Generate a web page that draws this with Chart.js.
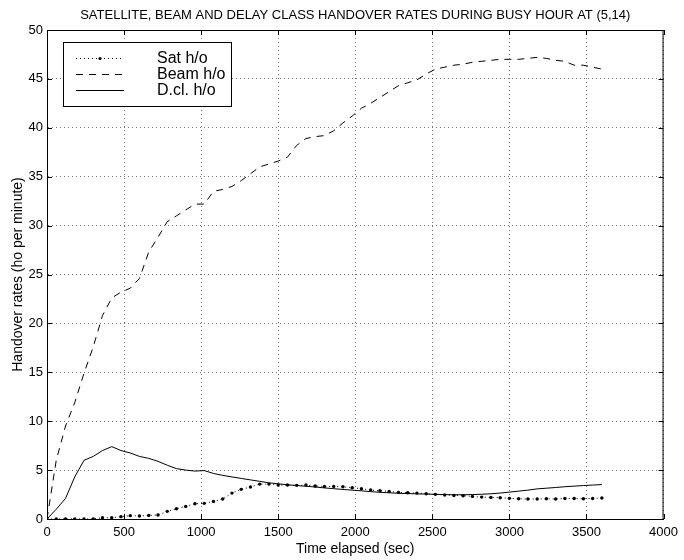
<!DOCTYPE html>
<html>
<head>
<meta charset="utf-8">
<script src="https://cdn.jsdelivr.net/npm/chart.js"></script>
<style>
  html, body { margin: 0; padding: 0; background: #fff; }
  #wrap { width: 684px; height: 560px; }
</style>
</head>
<body>
<div id="wrap"><canvas id="handoverChart" width="684" height="560"></canvas></div>
<script>
// sample times (sec), one every minute
const times = [0, 60, 120, 180, 240, 300, 360, 420, 480, 540, 600, 660, 720, 780, 840, 900, 960, 1020,
  1080, 1140, 1200, 1260, 1320, 1380, 1440, 1500, 1560, 1620, 1680, 1740, 1800, 1860, 1920, 1980,
  2040, 2100, 2160, 2220, 2280, 2340, 2400, 2460, 2520, 2580, 2640, 2700, 2760, 2820, 2880, 2940,
  3000, 3060, 3120, 3180, 3240, 3300, 3360, 3420, 3480, 3540, 3600];

// handover rates (ho per minute)
const satHo = [0, 0, 0, 0, 0, 0, 0.13, 0.13, 0.24, 0.34, 0.31, 0.37, 0.41, 0.78, 1.05, 1.29, 1.56, 1.6,
  1.8, 2.04, 2.65, 3.03, 3.27, 3.57, 3.57, 3.47, 3.47, 3.44, 3.47, 3.37, 3.33, 3.33, 3.3, 3.2,
  3.1, 2.96, 2.89, 2.82, 2.72, 2.69, 2.65, 2.58, 2.52, 2.45, 2.41, 2.38, 2.31, 2.24, 2.21, 2.18,
  2.11, 2.07, 2.04, 2.04, 2.07, 2.04, 2.1, 2.1, 2.07, 2.1, 2.14];

const beamHo = [0, 6.0, 9.5, 11.9, 14.9, 17.6, 20.8, 22.6, 23.2, 23.6, 24.6, 27.3, 28.8, 30.4, 31.0, 31.6, 32.2, 32.2,
  33.5, 33.7, 34.0, 34.6, 35.3, 36.0, 36.3, 36.6, 37.0, 38.2, 38.9, 39.1, 39.2, 39.7, 40.5, 41.2,
  42.0, 42.5, 43.1, 43.7, 44.3, 44.6, 44.9, 45.5, 46.0, 46.2, 46.4, 46.5, 46.7, 46.8, 46.9, 47.0,
  47.0, 47.0, 47.1, 47.2, 47.1, 46.9, 46.8, 46.4, 46.4, 46.2, 46.0];

const dclHo = [0, 1.0, 2.1, 4.3, 6.0, 6.4, 7.0, 7.4, 7.0, 6.75, 6.4, 6.2, 5.9, 5.5, 5.15, 5.0, 4.9, 4.95,
  4.66, 4.46, 4.3, 4.15, 4.0, 3.85, 3.7, 3.6, 3.5, 3.42, 3.35, 3.27, 3.18, 3.1, 3.02, 2.95,
  2.88, 2.8, 2.73, 2.68, 2.63, 2.6, 2.57, 2.55, 2.52, 2.5, 2.48, 2.48, 2.5, 2.53, 2.58, 2.65,
  2.75, 2.85, 2.95, 3.08, 3.15, 3.22, 3.3, 3.36, 3.42, 3.47, 3.52];

const seriesNames = ['Sat h/o', 'Beam h/o', 'D.cl. h/o'];
const chartTitle = 'SATELLITE, BEAM AND DELAY CLASS HANDOVER RATES DURING BUSY HOUR AT (5,14)';

const FONT = '"Liberation Sans", Arial, Helvetica, sans-serif';

function toPoints(vals) {
  return vals.map((v, i) => ({ x: times[i], y: v }));
}

// box round the axes, with inward tick marks on every side (MATLAB look)
const boxPlugin = {
  id: 'axesBox',
  afterDatasetsDraw(chart) {
    const { ctx, chartArea: a, scales } = chart;
    ctx.save();
    ctx.strokeStyle = '#000';
    ctx.lineWidth = 1;
    ctx.strokeRect(a.left + 0.5, a.top + 0.5, a.right - a.left - 1, a.bottom - a.top);
    ctx.beginPath();
    scales.x.ticks.forEach(t => {
      const px = Math.round(scales.x.getPixelForValue(t.value)) + 0.5;
      ctx.moveTo(px, a.bottom); ctx.lineTo(px, a.bottom - 5);
      ctx.moveTo(px, a.top); ctx.lineTo(px, a.top + 5);
    });
    scales.y.ticks.forEach(t => {
      const py = Math.round(scales.y.getPixelForValue(t.value)) + 0.5;
      ctx.moveTo(a.left, py); ctx.lineTo(a.left + 5, py);
      ctx.moveTo(a.right, py); ctx.lineTo(a.right - 5, py);
    });
    ctx.stroke();
    ctx.restore();
  }
};

// title centred over the plot area, legend box inside the plot
const legendPlugin = {
  id: 'boxLegend',
  afterDraw(chart) {
    const { ctx, chartArea: a } = chart;
    ctx.save();
    ctx.fillStyle = '#000';
    ctx.font = '13px ' + FONT;
    ctx.textAlign = 'center';
    ctx.textBaseline = 'alphabetic';
    ctx.fillText(chartTitle, (a.left + a.right) / 2, 19);

    const x0 = a.left + 16, y0 = a.top + 12, w = 168, h = 64;
    ctx.textAlign = 'left';
    ctx.textBaseline = 'middle';
    ctx.fillStyle = '#fff';
    ctx.fillRect(x0, y0, w, h);
    ctx.strokeStyle = '#000';
    ctx.lineWidth = 1;
    ctx.strokeRect(x0 + 0.5, y0 + 0.5, w, h);
    const dashes = [[1, 3], [7, 6], []];
    chart.data.datasets.forEach((ds, i) => {
      const yy = y0 + 16.5 + i * 16;
      ctx.setLineDash(dashes[i]);
      ctx.beginPath();
      ctx.moveTo(x0 + 13, yy);
      ctx.lineTo(x0 + 61, yy);
      ctx.stroke();
      ctx.setLineDash([]);
      if (i === 0) {
        ctx.beginPath();
        ctx.arc(x0 + 37, yy, 1.6, 0, Math.PI * 2);
        ctx.fillStyle = '#000';
        ctx.fill();
      }
      ctx.fillStyle = '#000';
      ctx.font = '16px ' + FONT;
      ctx.fillText(ds.label, x0 + 94, yy);
    });
    ctx.restore();
  }
};

const ctx = document.getElementById('handoverChart').getContext('2d');

new Chart(ctx, {
  type: 'line',
  data: {
    datasets: [
      {
        label: seriesNames[0],
        data: toPoints(satHo),
        borderColor: '#000',
        borderWidth: 1,
        borderDash: [1, 3],
        pointRadius: 1.7,
        pointBackgroundColor: '#000',
        pointBorderWidth: 0,
        tension: 0
      },
      {
        label: seriesNames[1],
        data: toPoints(beamHo),
        borderColor: '#000',
        borderWidth: 1,
        borderDash: [7, 6],
        pointRadius: 0,
        tension: 0
      },
      {
        label: seriesNames[2],
        data: toPoints(dclHo),
        borderColor: '#000',
        borderWidth: 1,
        pointRadius: 0,
        tension: 0
      }
    ]
  },
  options: {
    responsive: false,
    animation: false,
    layout: { padding: { top: 30, right: 17, bottom: 0, left: 0 } },
    plugins: {
      legend: { display: false },
      tooltip: { enabled: false },
      title: { display: false }
    },
    scales: {
      x: {
        type: 'linear',
        min: 0,
        max: 4000,
        afterFit(scale) { scale.height = 41; },
        ticks: {
          stepSize: 500,
          color: '#000',
          padding: 6,
          maxRotation: 0,
          font: { family: FONT, size: 13 },
          callback: v => String(v)
        },
        grid: {
          color: 'rgba(0,0,0,0.55)',
          drawTicks: false
        },
        border: { display: true, color: '#000', width: 1, dash: [1, 3] },
        title: {
          display: true,
          text: 'Time elapsed (sec)',
          color: '#000',
          font: { family: FONT, size: 14 },
          padding: { top: 0, bottom: 2 }
        }
      },
      y: {
        min: 0,
        max: 50,
        afterFit(scale) { scale.width = 47; },
        ticks: {
          stepSize: 5,
          color: '#000',
          padding: 4,
          font: { family: FONT, size: 13 },
          callback: v => String(v)
        },
        grid: {
          color: 'rgba(0,0,0,0.55)',
          drawTicks: false
        },
        border: { display: true, color: '#000', width: 1, dash: [1, 3] },
        title: {
          display: true,
          text: 'Handover rates (ho per minute)',
          color: '#000',
          font: { family: FONT, size: 14 },
          padding: { top: 10, bottom: 0 }
        }
      }
    }
  },
  plugins: [boxPlugin, legendPlugin]
});
</script>
</body>
</html>
